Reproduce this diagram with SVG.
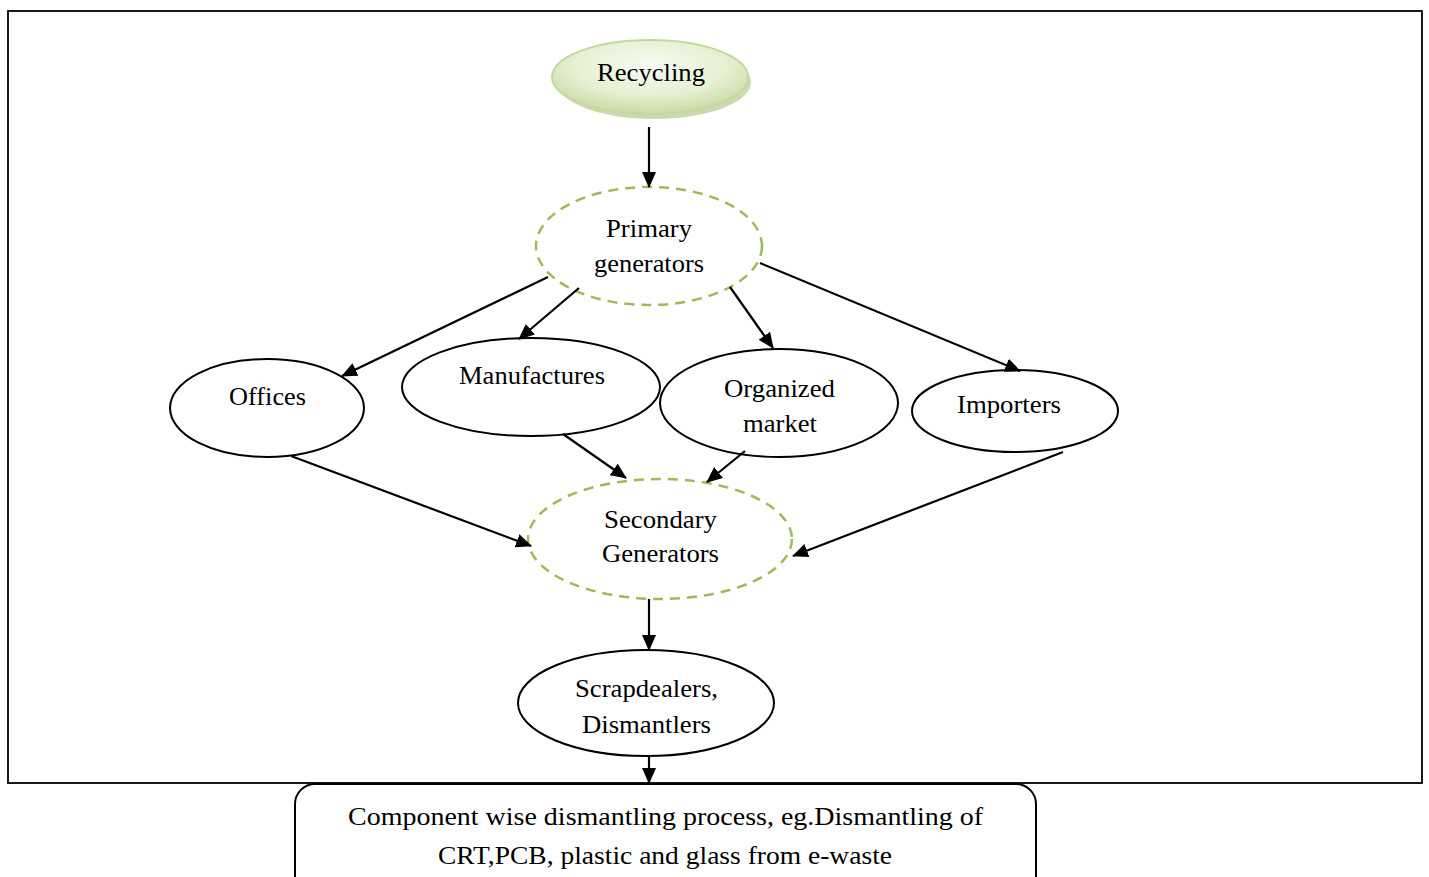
<svg xmlns="http://www.w3.org/2000/svg" width="1429" height="877" viewBox="0 0 1429 877">
<defs>
<marker id="ah" markerWidth="16" markerHeight="14" refX="15" refY="7" orient="auto" markerUnits="userSpaceOnUse">
<path d="M0,0 L16,7 L0,14 Z" fill="#000"/>
</marker>
<radialGradient id="gg" cx="50%" cy="35%" r="65%">
<stop offset="0" stop-color="#f8fbf2"/>
<stop offset="0.6" stop-color="#e6f0d3"/>
<stop offset="1" stop-color="#c8dba3"/>
</radialGradient>
<style>
.t{font-family:"Liberation Serif","Times New Roman",serif;font-size:24.5px;fill:#000;text-anchor:middle}
.n{fill:#fff;stroke:#000;stroke-width:2}
.d{fill:#fff;stroke:#9bbb59;stroke-width:2.5;stroke-dasharray:10 7}
.c line{stroke:#000;stroke-width:2.2;marker-end:url(#ah)}
</style>
</defs>
<rect x="0" y="0" width="1429" height="877" fill="#fff"/>
<rect x="8" y="11" width="1414" height="772" fill="none" stroke="#000" stroke-width="1.8"/>
<g id="recycling">
<ellipse cx="654" cy="82" rx="97" ry="37" fill="#a9c07a" opacity="0.6"/>
<ellipse cx="650" cy="77" rx="98" ry="37" fill="url(#gg)" stroke="#c4d99c" stroke-width="2"/>
<text class="t" x="651" y="81" textLength="108" lengthAdjust="spacingAndGlyphs">Recycling</text>
</g>
<g id="primary">
<ellipse class="d" cx="649" cy="246" rx="113" ry="59"/>
<text class="t" x="649" y="237" textLength="86" lengthAdjust="spacingAndGlyphs">Primary</text>
<text class="t" x="649" y="272" textLength="110" lengthAdjust="spacingAndGlyphs">generators</text>
</g>
<g id="offices">
<ellipse class="n" cx="267" cy="408" rx="97" ry="49"/>
<text class="t" x="267.5" y="405" textLength="77" lengthAdjust="spacingAndGlyphs">Offices</text>
</g>
<g id="manufactures">
<ellipse class="n" cx="531" cy="387" rx="129" ry="49"/>
<text class="t" x="532" y="384" textLength="146" lengthAdjust="spacingAndGlyphs">Manufactures</text>
</g>
<g id="organized">
<ellipse class="n" cx="779" cy="403" rx="119" ry="54"/>
<text class="t" x="779.5" y="397" textLength="111" lengthAdjust="spacingAndGlyphs">Organized</text>
<text class="t" x="780" y="432" textLength="74" lengthAdjust="spacingAndGlyphs">market</text>
</g>
<g id="importers">
<ellipse class="n" cx="1015" cy="411" rx="103" ry="41"/>
<text class="t" x="1009" y="413" textLength="104" lengthAdjust="spacingAndGlyphs">Importers</text>
</g>
<g id="secondary">
<ellipse class="d" cx="660" cy="539" rx="132" ry="60"/>
<text class="t" x="660.5" y="528" textLength="113" lengthAdjust="spacingAndGlyphs">Secondary</text>
<text class="t" x="660.5" y="562" textLength="117" lengthAdjust="spacingAndGlyphs">Generators</text>
</g>
<g id="scrap">
<ellipse class="n" cx="646" cy="703" rx="128" ry="53"/>
<text class="t" x="646.5" y="697" textLength="143" lengthAdjust="spacingAndGlyphs">Scrapdealers,</text>
<text class="t" x="646.5" y="733" textLength="129" lengthAdjust="spacingAndGlyphs">Dismantlers</text>
</g>
<g id="component">
<rect x="295" y="784" width="741" height="120" rx="20" fill="#fff" stroke="#000" stroke-width="2"/>
<text class="t" x="665.5" y="825" textLength="635" lengthAdjust="spacingAndGlyphs">Component wise dismantling process, eg.Dismantling of</text>
<text class="t" x="665" y="864" textLength="454" lengthAdjust="spacingAndGlyphs">CRT,PCB, plastic and glass from e-waste</text>
</g>
<g id="connectors" class="c">
<line x1="649" y1="127" x2="649" y2="187"/>
<line x1="548" y1="277" x2="342" y2="376"/>
<line x1="579" y1="288" x2="519" y2="339"/>
<line x1="730" y1="287" x2="773" y2="348"/>
<line x1="760" y1="263" x2="1020" y2="371"/>
<line x1="291" y1="456" x2="531" y2="546"/>
<line x1="563" y1="434" x2="626" y2="478"/>
<line x1="745" y1="451" x2="707" y2="482"/>
<line x1="1063" y1="452" x2="793" y2="556"/>
<line x1="649" y1="599" x2="649" y2="650"/>
<line x1="649" y1="757" x2="649" y2="783"/>
</g>
</svg>
